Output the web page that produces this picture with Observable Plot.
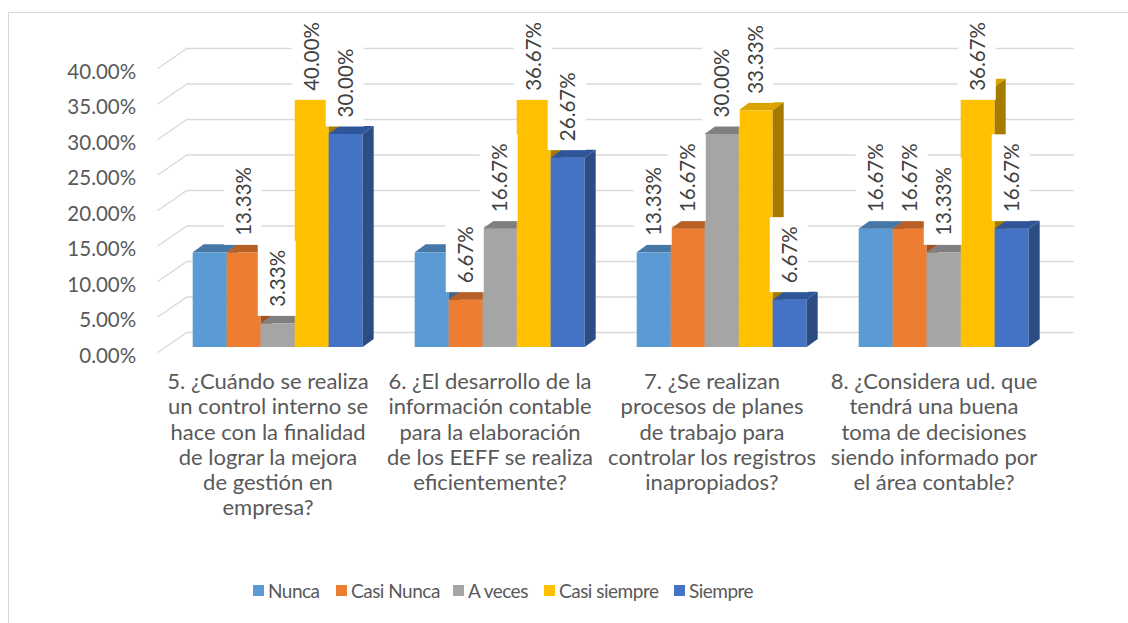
<!DOCTYPE html>
<html><head><meta charset="utf-8">
<script src="https://cdn.jsdelivr.net/npm/d3@7"></script>
<script src="https://cdn.jsdelivr.net/npm/@observablehq/plot@0.6"></script>
<style>
html,body{margin:0;padding:0;background:#fff;width:1128px;height:623px;overflow:hidden;position:relative;}
#frame{position:absolute;left:8px;top:12px;width:1200px;height:700px;border:1.5px solid #d9d9d9;box-sizing:border-box;z-index:2;pointer-events:none;}
#chart{position:absolute;left:0;top:0;z-index:1;}
#legend{position:absolute;left:0;top:578px;width:1128px;height:24px;font-family:Lato,sans-serif;font-size:19px;letter-spacing:-0.5px;color:#595959;z-index:3;white-space:nowrap;}
#legend .item{position:absolute;top:0;display:flex;align-items:center;height:24px;}
#legend .sw{width:11px;height:11px;margin-right:4px;}
</style></head><body>
<div id="frame"></div><div id="chart"></div><div id="legend"></div>
<script>
const categories = [
  "5. ¿Cuándo se realiza\nun control interno se\nhace con la finalidad\nde lograr la mejora\nde gestión en\nempresa?",
  "6. ¿El desarrollo de la\ninformación contable\npara la elaboración\nde los EEFF se realiza\neficientemente?",
  "7. ¿Se realizan\nprocesos de planes\nde trabajo para\ncontrolar los registros\ninapropiados?",
  "8. ¿Considera ud. que\ntendrá una buena\ntoma de decisiones\nsiendo informado por\nel área contable?"
];
const series = ["Nunca", "Casi Nunca", "A veces", "Casi siempre", "Siempre"];
const nunca       = [0.1333, 0.1333, 0.1333, 0.1667];
const casiNunca   = [0.1333, 0.0667, 0.1667, 0.1667];
const aVeces      = [0.0333, 0.1667, 0.3000, 0.1333];
const casiSiempre = [0.4000, 0.3667, 0.3333, 0.3667];
const siempre     = [0.3000, 0.2667, 0.0667, 0.1667];
const nuncaLabelShown = [false, false, true, true];
const yTicks = [0, 0.05, 0.10, 0.15, 0.20, 0.25, 0.30, 0.35, 0.40];

const seriesColors = ["#5B9BD5", "#ED7D31", "#A5A5A5", "#FFC000", "#4472C4"];
const topColors    = ["#4677A6", "#B85F25", "#7F7F7F", "#D9A300", "#30569A"];
const sideColors   = ["#3E6A94", "#A05220", "#6E6E6E", "#A67C00", "#2C4C84"];
const legendLeft   = [253, 336, 453, 544, 674];

const valuesBySeries = [nunca, casiNunca, aVeces, casiSiempre, siempre];
const data = categories.flatMap((c, ci) => series.map((s, si) => ({
  category: c, series: s, si, value: valuesBySeries[si][ci],
  show: si === 0 ? nuncaLabelShown[ci] : true
})));

const NS = "http://www.w3.org/2000/svg";
const DX = 11, DY = 8;
const FONT = "Lato, sans-serif";
const fmt = d3.format(".2%");

function bars3d(index, scales, values, dimensions, context, next) {
  const g = next(index, scales, values, dimensions, context);
  const rects = Array.from(g.querySelectorAll("rect"));
  rects.forEach((r, k) => {
    const d = data[index[k]];
    const x = +r.getAttribute("x"), y = +r.getAttribute("y");
    const w = +r.getAttribute("width"), h = +r.getAttribute("height");
    const top = document.createElementNS(NS, "polygon");
    top.setAttribute("points", `${x},${y} ${x + w},${y} ${x + w + DX},${y - DY} ${x + DX},${y - DY}`);
    top.setAttribute("fill", topColors[d.si]);
    const side = document.createElementNS(NS, "polygon");
    side.setAttribute("points", `${x + w},${y} ${x + w + DX},${y - DY} ${x + w + DX},${y + h - DY} ${x + w},${y + h}`);
    side.setAttribute("fill", sideColors[d.si]);
    r.after(top, side);
  });
  return g;
}

function floorDiagonals(index, scales, values, dimensions, context, next) {
  const g = next(index, scales, values, dimensions, context);
  g.querySelectorAll("line").forEach(l => {
    l.setAttribute("y1", +l.getAttribute("y1") + 5);
    l.setAttribute("y2", +l.getAttribute("y2") - 15);
  });
  return g;
}

const labelGroups = [];
function collectLabels(index, scales, values, dimensions, context, next) {
  const g = next(index, scales, values, dimensions, context);
  labelGroups.push(g);
  return g;
}

const plot = Plot.plot({
  width: 1128, height: 623,
  marginLeft: 191.3, marginRight: 98.8, marginTop: 63, marginBottom: 276,
  style: {background: "transparent", fontFamily: FONT, overflow: "visible"},
  fx: {domain: categories, paddingInner: 0.231, paddingOuter: 0, axis: null, label: null},
  x: {domain: series, padding: 0, axis: null, label: null},
  y: {domain: [0, 0.4], axis: null, label: null},
  color: {domain: series, range: seriesColors},
  marks: [
    Plot.ruleY(yTicks, {y: d => d, facetAnchor: "left", insetLeft: -6.3, insetRight: -710.8, dy: -15, stroke: "#d9d9d9", strokeWidth: 1.5}),
    Plot.ruleY(yTicks, {y: d => d, facetAnchor: "left", insetLeft: -34.3, insetRight: 176.2, stroke: "#d9d9d9", strokeWidth: 1.5, render: floorDiagonals}),
    Plot.text(yTicks, {y: d => d, facetAnchor: "left", frameAnchor: "left", text: d => fmt(d), textAnchor: "end", dx: -56.3, dy: 8.5, fontSize: 20.5, fill: "#595959"}),
    Plot.barY(data, {fx: "category", x: "series", y: "value", fill: "series", render: bars3d}),
    Plot.text(data, {fx: "category", x: "series", y: "value", filter: "show", text: d => fmt(d.value), rotate: -90, textAnchor: "start", dy: -17, fontSize: 20.5, fill: "#404040", render: collectLabels}),
    Plot.text(categories, {fx: d => d, text: d => d, frameAnchor: "bottom", lineAnchor: "top", dy: 23.5, dx: -10, fontSize: 22, lineHeight: 1.15, fill: "#595959"})
  ]
});
document.getElementById("chart").append(plot);

function addLabelBoxes() {
  const svgBox = plot.getBoundingClientRect();
  labelGroups.forEach(g => {
    g.querySelectorAll("text").forEach(t => {
      let b = t.getBoundingClientRect();
      const minTop = 22;
      if (b.top - svgBox.top < minTop) {
        const shift = minTop - (b.top - svgBox.top);
        t.setAttribute("transform", `translate(0,${shift}) ` + (t.getAttribute("transform") || ""));
        b = t.getBoundingClientRect();
      }
      const parent = t.parentNode;
      const m = parent.getScreenCTM();
      const cx = (b.left + b.right) / 2 - m.e;
      const rect = document.createElementNS(NS, "rect");
      rect.setAttribute("x", cx - 19);
      rect.setAttribute("width", 38);
      rect.setAttribute("y", b.top - m.f - 9);
      rect.setAttribute("height", b.height + 18);
      rect.setAttribute("fill", "#ffffff");
      parent.insertBefore(rect, t);
    });
  });
}
addLabelBoxes();

// legend
const legend = document.getElementById("legend");
series.forEach((s, i) => {
  const item = document.createElement("div");
  item.className = "item";
  item.style.left = legendLeft[i] + "px";
  const sw = document.createElement("div");
  sw.className = "sw";
  sw.style.background = seriesColors[i];
  const label = document.createElement("span");
  label.textContent = s;
  item.append(sw, label);
  legend.append(item);
});
</script>
</body></html>
